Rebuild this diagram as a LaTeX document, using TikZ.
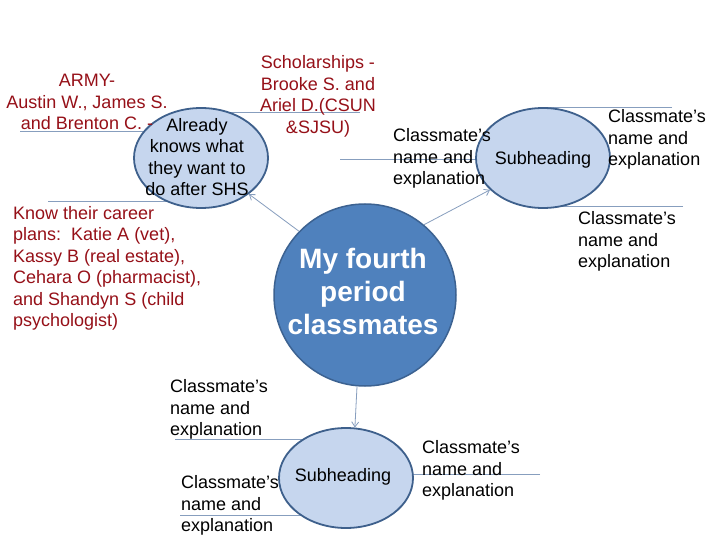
\documentclass[tikz,border=0pt]{standalone}
\usepackage{fontspec}
\setmainfont{Liberation Sans}
\usetikzlibrary{shapes.geometric,arrows.meta,backgrounds}
\definecolor{redtxt}{RGB}{150,16,24}
\definecolor{lightfill}{RGB}{198,214,238}
\definecolor{subedge}{RGB}{62,96,140}
\definecolor{mainfill}{RGB}{79,129,189}
\definecolor{mainedge}{RGB}{60,98,145}
\definecolor{conn}{RGB}{135,158,190}
\begin{document}
\begin{tikzpicture}[x=1pt,y=-1pt,
  sub/.style={ellipse, draw=subedge, line width=1.8pt, fill=lightfill, minimum width=134pt, minimum height=100pt, inner sep=0pt},
  hub/.style={circle, draw=mainedge, line width=1.5pt, fill=mainfill, minimum size=182pt, inner sep=0pt},
  txt/.style={font=\fontsize{18}{21.5}\selectfont, inner sep=0pt, align=left, anchor=west},
  rtxt/.style={txt, text=redtxt},
  hubtxt/.style={font=\bfseries\fontsize{28}{33}\selectfont, text=white, inner sep=0pt, align=center},
  arr/.style={draw=conn, line width=0.8pt, -{Straight Barb[length=5pt,width=7pt]}},
  hline/.style={draw=conn, line width=1pt}
]
\useasboundingbox (0,0) rectangle (720,540);

% shapes
\node[hub] (c) at (365,295) {};
\node[sub] (tl) at (201,158) {};
\node[sub] (tr) at (543,158) {};
\node[sub] (bt) at (346,478) {};

% shape texts
\node[hubtxt] (ct) at (363,291) {My fourth\\period\\classmates};
\node[txt, anchor=center, align=center] (tlt) at (197,157) {Already\\knows what\\they want to\\do after SHS};
\node[txt, anchor=center] (trt) at (543,160) {Subheading};
\node[txt, anchor=center] (btt) at (343,477) {Subheading};

% red texts
\node[rtxt, anchor=center, align=center] (army) at (87,102) {ARMY-\\Austin W., James S.\\and Brenton C. -};
\node[rtxt, anchor=center, align=center] (schol) at (318,96.5) {Scholarships -\\Brooke S. and\\Ariel D.(CSUN\\\&SJSU)};
\node[rtxt] (career) at (13,268.5) {Know their career\\plans:\ \ Katie A (vet),\\Kassy B (real estate),\\Cehara O (pharmacist),\\and Shandyn S (child\\psychologist)};

% black texts
\node[txt] (n1) at (393,158.5) {Classmate’s\\name and\\explanation};
\node[txt] (n2) at (608,139.5) {Classmate’s\\name and\\explanation};
\node[txt] (n3) at (578,241.5) {Classmate’s\\name and\\explanation};
\node[txt] (n4) at (170,409.5) {Classmate’s\\name and\\explanation};
\node[txt] (n5) at (181,505.5) {Classmate’s\\name and\\explanation};
\node[txt] (n6) at (422,470.5) {Classmate’s\\name and\\explanation};

% connectors
\draw[arr] (c.136) -- (tl.323);
\draw[arr] (c.50) -- (tr.211);
\draw[arr] (c.265) -- (bt.80);

% horizontal lines behind
\begin{scope}[on background layer]
  \fill[white] (0,0) rectangle (720,540);
  \coordinate (a1) at (20,132);  \draw[hline] (a1) -- (a1 -| tl.center);
  \coordinate (a2) at (360,113); \draw[hline] (a2) -- (a2 -| tl.center);
  \coordinate (a3) at (48,202);  \draw[hline] (a3) -- (a3 -| tl.center);
  \coordinate (a4) at (340,160); \draw[hline] (a4) -- (a4 -| tr.center);
  \coordinate (a5) at (672,108); \draw[hline] (a5) -- (a5 -| tr.center);
  \coordinate (a6) at (683,207); \draw[hline] (a6) -- (a6 -| tr.center);
  \coordinate (a7) at (175,439); \draw[hline] (a7) -- (a7 -| bt.center);
  \coordinate (a8) at (180,515); \draw[hline] (a8) -- (a8 -| bt.center);
  \coordinate (a9) at (540,474); \draw[hline] (a9) -- (a9 -| bt.center);
\end{scope}
\end{tikzpicture}
\end{document}
